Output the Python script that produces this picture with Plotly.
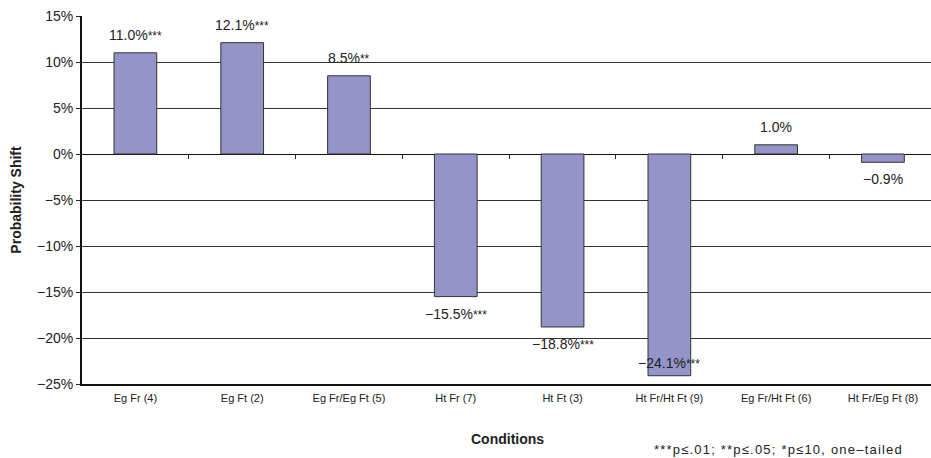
import plotly.graph_objects as go

# Conditions and their probability shifts (percentage points)
conditions = ["Eg Fr (4)", "Eg Ft (2)", "Eg Fr/Eg Ft (5)", "Ht Fr (7)", "Ht Ft (3)",
              "Ht Fr/Ht Ft (9)", "Eg Fr/Ht Ft (6)", "Ht Fr/Eg Ft (8)"]
shift = [11.0, 12.1, 8.5, -15.5, -18.8, -24.1, 1.0, -0.9]
significance = ["***", "***", "**", "***", "***", "***", "", ""]

y_ticks = [15, 10, 5, 0, -5, -10, -15, -20, -25]
y_tick_text = [("\u2212" if v < 0 else "") + f"{abs(v)}%" for v in y_ticks]

W, H = 931, 458
M = dict(l=82, r=0, t=16, b=74)
Y_MIN, Y_MAX = -25, 15
FONT = "Liberation Sans, Arial, sans-serif"
INK = "#222222"

plot_h = H - M["t"] - M["b"]
plot_w = W - M["l"] - M["r"]
px_per_unit = plot_h / (Y_MAX - Y_MIN)

fig = go.Figure()
fig.add_trace(go.Bar(
    x=list(range(len(conditions))), y=shift, width=0.4,
    marker=dict(color="#9494c8", line=dict(color="#333333", width=1)),
    hoverinfo="skip",
))

# Value labels beside each bar, kept inside the plot area
for i, (v, s) in enumerate(zip(shift, significance)):
    txt = f"{'\u2212' if v < 0 else ''}{abs(v):.1f}%"
    if s:
        txt += f"<span style='font-size:12px'>{s}</span>"
    off = 18 if v >= 0 else -17
    label_px = (v - Y_MIN) * px_per_unit + off
    label_px = max(label_px, 21)
    fig.add_annotation(x=i, y=Y_MIN, yref="y", xref="x", text=txt, showarrow=False,
                       yanchor="middle", xanchor="center",
                       yshift=label_px,
                       font=dict(family=FONT, size=14, color=INK))

fig.update_layout(
    width=W, height=H, margin=M,
    paper_bgcolor="white", plot_bgcolor="white",
    showlegend=False, bargap=0.6,
    xaxis=dict(
        range=[-0.5, 7.45], tickmode="array", tickvals=list(range(len(conditions))),
        ticktext=conditions, ticks="", showgrid=False, zeroline=False,
        showline=True, linecolor="#111111", linewidth=2, ticklabelstandoff=3,
        tickfont=dict(family=FONT, size=11, color=INK),
    ),
    xaxis2=dict(
        range=[-0.5, 7.45], overlaying="x", anchor="free",
        position=(0 - Y_MIN) / (Y_MAX - Y_MIN),
        tickmode="array", tickvals=[k + 0.5 for k in range(len(conditions))],
        ticks="outside", ticklen=4, tickcolor="#222222", tickwidth=1,
        showticklabels=False, showgrid=False, zeroline=False, showline=False,
    ),
    yaxis=dict(
        range=[Y_MIN, Y_MAX], tickmode="array", tickvals=y_ticks, ticktext=y_tick_text,
        ticks="outside", ticklen=4, tickcolor="#222222",
        showgrid=True, gridcolor="#333333", gridwidth=1,
        zeroline=True, zerolinecolor="#111111", zerolinewidth=1,
        showline=True, linecolor="#111111", linewidth=2,
        tickfont=dict(family=FONT, size=14, color=INK),
        title=dict(text="<b>Probability Shift</b>", standoff=12,
                   font=dict(family=FONT, size=14, color=INK)),
    ),
)

# Dummy trace so the secondary axis (category boundary ticks on the zero line) renders
fig.add_trace(go.Scatter(x=[None], y=[None], xaxis="x2", yaxis="y", hoverinfo="skip"))

# Axis title and footnote, placed in pixel terms relative to the plot area
fig.add_annotation(x=(507 - M["l"]) / plot_w, xref="paper",
                   y=(H - M["b"] - 439) / plot_h, yref="paper",
                   xanchor="center", yanchor="middle",
                   text="<b>Conditions</b>", showarrow=False,
                   font=dict(family=FONT, size=14, color=INK))
fig.add_annotation(x=(778 - M["l"]) / plot_w, xref="paper",
                   y=(H - M["b"] - 449) / plot_h, yref="paper",
                   xanchor="center", yanchor="middle", showarrow=False,
                   text="<span style='letter-spacing:1.2px'>"
                        "***p\u2264.01; **p\u2264.05; *p\u226410, one\u2013tailed</span>",
                   font=dict(family=FONT, size=13, color=INK))

fig.write_html("out.html")
